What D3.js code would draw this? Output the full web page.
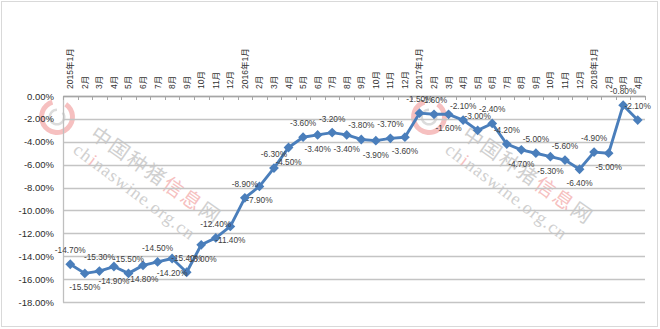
<!DOCTYPE html>
<html><head><meta charset="utf-8">
<script src="https://cdn.jsdelivr.net/npm/d3@7/dist/d3.min.js"></script>
<style>html,body{margin:0;padding:0;background:#fff;} svg{display:block}</style>
</head><body>
<svg id="c" width="660" height="329"></svg>
<script>
const categories = [
  "2015年1月","2月","3月","4月","5月","6月","7月","8月","9月","10月","11月","12月",
  "2016年1月","2月","3月","4月","5月","6月","7月","8月","9月","10月","11月","12月",
  "2017年1月","2月","3月","4月","5月","6月","7月","8月","9月","10月","11月","12月",
  "2018年1月","2月","3月","4月"
];
const values = [
  -14.7,-15.5,-15.3,-14.9,-15.5,-14.8,-14.5,-14.2,-15.4,-13.0,-12.4,-11.4,
  -8.9,-7.9,-6.3,-4.5,-3.6,-3.4,-3.2,-3.4,-3.8,-3.9,-3.7,-3.6,
  -1.5,-1.6,-1.6,-2.1,-3.0,-2.4,-4.2,-4.7,-5.0,-5.3,-5.6,-6.4,
  -4.9,-5.0,-0.8,-2.1
];
const yTicks = [0,-2,-4,-6,-8,-10,-12,-14,-16,-18];

const svg = d3.select("#c");
const L = 63, R = 645, T = 96, B = 302;
const x = d3.scaleBand().domain(d3.range(categories.length)).range([L, R]);
const y = d3.scaleLinear().domain([0, -18]).range([T, B]);
const cx = i => x(i) + x.bandwidth() / 2;

// outer border
svg.append("rect").attr("x", 1.5).attr("y", 1.5).attr("width", 656).attr("height", 325)
  .attr("fill", "#fff").attr("stroke", "#d9d9d9").attr("stroke-width", 1);

// watermark
function watermark(dx, dy) {
  const g = svg.append("g").attr("transform", `translate(${dx},${dy})`);
  g.append("path")
    .attr("d", d3.arc().innerRadius(13).outerRadius(18).startAngle(0.6).endAngle(2 * Math.PI - 0.3)())
    .attr("transform", "translate(57,117)").attr("fill", "#f6c0c0");
  g.append("path")
    .attr("d", d3.arc().innerRadius(6).outerRadius(8.5).startAngle(0.9).endAngle(2 * Math.PI)())
    .attr("transform", "translate(57,117)").attr("fill", "#dcdcdc");
  const t = g.append("text").attr("transform", "translate(89,137) rotate(35)")
    .attr("font-family", "Noto Sans CJK SC").attr("font-size", 20)
    .attr("letter-spacing", 2).attr("fill", "#d0d0d0");
  t.append("tspan").text("中国种猪");
  t.append("tspan").attr("fill", "#f6c0c0").text("信息");
  t.append("tspan").text("网");
  const t2 = g.append("text").attr("transform", "translate(72,152) rotate(37)")
    .attr("font-family", "Liberation Serif").attr("font-size", 18)
    .attr("letter-spacing", 1).attr("fill", "#d0d0d0");
  t2.append("tspan").text("ch");
  t2.append("tspan").attr("fill", "#f6c0c0").text("i");
  t2.append("tspan").text("naswine.org.cn");
}
watermark(0, 0);
watermark(372, 0);

// gridlines
svg.append("g").selectAll("line").data(yTicks).join("line")
  .attr("x1", L).attr("x2", R)
  .attr("y1", d => Math.round(y(d)) + 0.5).attr("y2", d => Math.round(y(d)) + 0.5)
  .attr("stroke", "#c4c4c4").attr("stroke-width", 1.3);

// y axis
const ya = svg.append("g").attr("transform", `translate(${L},0)`)
  .call(d3.axisLeft(y).tickValues(yTicks).tickFormat(d => d.toFixed(2) + "%").tickSize(0).tickPadding(9));
ya.select(".domain").attr("stroke", "#bfbfbf").attr("stroke-width", 1.3);
ya.selectAll("text").attr("font-family", "Liberation Sans").attr("font-size", 9.5).attr("fill", "#2b2b2b");

// top category axis
const xa = svg.append("g").attr("transform", `translate(0,${T})`)
  .call(d3.axisTop(x).tickFormat(i => categories[i]).tickSize(0).tickSizeOuter(0));
xa.select(".domain").attr("stroke", "#a6a6a6").attr("stroke-width", 1.3);
xa.selectAll("text")
  .attr("transform", "rotate(-90)").attr("x", 7).attr("y", 0).attr("dy", "0.35em")
  .attr("text-anchor", "start")
  .attr("font-family", "Liberation Sans, Noto Sans CJK SC").attr("font-size", 8.5).attr("fill", "#333");
// boundary tick marks (between categories)
svg.append("g").selectAll("line").data(d3.range(categories.length + 1)).join("line")
  .attr("x1", i => Math.round(L + i * x.step()) + 0.5).attr("x2", i => Math.round(L + i * x.step()) + 0.5)
  .attr("y1", T).attr("y2", T + 4).attr("stroke", "#a6a6a6");

// line
svg.append("path").datum(values)
  .attr("d", d3.line().x((d, i) => cx(i)).y(d => y(d)))
  .attr("fill", "none").attr("stroke", "#4a7ebb").attr("stroke-width", 2.9).attr("stroke-linejoin", "round");

// markers
svg.append("g").selectAll("path").data(values).join("path")
  .attr("d", d3.symbol(d3.symbolSquare, 48))
  .attr("transform", (d, i) => `translate(${cx(i)},${y(d)}) rotate(45)`)
  .attr("fill", "#4a7ebb");

// data labels
const forceAbove = new Set([25, 27, 29, 39]);
const forceBelow = new Set([26]);
svg.append("g").selectAll("text").data(values).join("text")
  .attr("x", (d, i) => cx(i))
  .attr("y", (d, i) => {
    let above = i % 2 === 0;
    if (forceAbove.has(i)) above = true;
    if (forceBelow.has(i)) above = false;
    return y(d) + (above ? -11 : 17);
  })
  .attr("text-anchor", "middle")
  .attr("font-family", "Liberation Sans").attr("font-size", 8.3).attr("fill", "#404040")
  .text(d => d.toFixed(2) + "%");
</script>
</body></html>
